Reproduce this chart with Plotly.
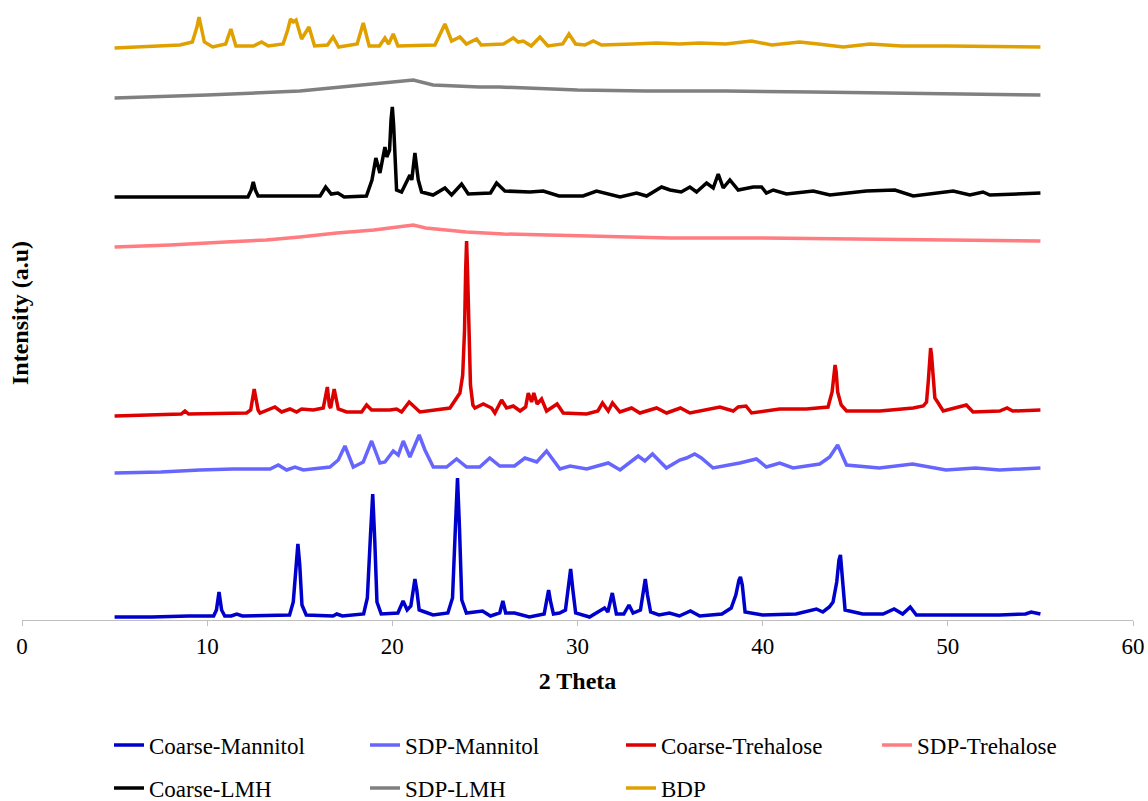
import plotly.graph_objects as go

# ---- data (2 Theta, intensity in a.u.) ----
cm_x = [5.0, 7.0, 9.0, 10.35, 10.5, 10.64, 10.78, 10.95, 11.3, 11.6, 11.9, 14.45, 14.65, 14.8, 14.9, 15.0, 15.12,
        15.35, 16.8, 17.0, 17.3, 18.45, 18.65, 18.82, 18.94, 19.05, 19.17, 19.4, 20.3, 20.58, 20.8, 21.0, 21.12,
        21.22, 21.32, 21.45, 21.76, 22.2, 23.0, 23.25, 23.4, 23.52, 23.63, 23.75, 24.0, 24.87, 25.3, 25.8, 25.97,
        26.12, 26.6, 27.4, 28.2, 28.34, 28.44, 28.55, 28.7, 29.03, 29.35, 29.5, 29.63, 29.75, 29.9, 30.65, 31.46,
        31.64, 31.88, 32.1, 32.5, 32.78, 33.0, 33.4, 33.55, 33.66, 33.78, 33.95, 34.4, 34.97, 35.5, 36.1, 36.6,
        37.8, 38.3, 38.55, 38.72, 38.8, 38.9, 39.05, 40.0, 41.8, 42.9, 43.25, 43.6, 43.8, 44.0, 44.12, 44.2,
        44.3, 44.45, 45.4, 46.5, 47.1, 47.56, 47.97, 48.3, 49.9, 52.8, 54.2, 54.5, 55.0]
cm_y = [3, 3, 4, 4, 10, 28, 10, 4, 4, 6, 4, 5, 18, 55, 76, 55, 15,
        5, 4, 6, 4, 6, 22, 85, 126, 80, 18, 6, 7, 19, 10, 14, 32,
        41, 30, 10, 8, 5, 7, 22, 90, 142, 90, 20, 7, 9, 4, 7, 19,
        7, 7, 3, 6, 20, 30, 18, 6, 7, 10, 32, 51, 30, 7, 3, 12,
        8, 27, 6, 6, 15, 7, 10, 30, 41, 25, 8, 5, 7, 4, 9, 4,
        6, 12, 25, 40, 43, 35, 8, 5, 6, 11, 8, 13, 18, 38, 60, 65,
        45, 10, 6, 6, 11, 6, 13, 5, 5, 5, 6, 8, 6]

sm_x = [5.0, 7.5, 9.6, 11.4, 13.4, 13.84, 14.29, 14.74, 15.19, 16.63, 17.08, 17.44, 17.89, 18.43, 18.88, 19.33,
        19.6, 20.05, 20.32, 20.59, 20.95, 21.45, 21.76, 22.21, 22.93, 23.47, 24.01, 24.72, 25.26, 25.8, 26.6,
        27.16, 27.8, 28.33, 29.05, 29.6, 30.5, 31.66, 32.3, 33.28, 33.64, 34.05, 34.8, 35.52, 35.88, 36.33,
        36.69, 37.32, 38.76, 39.66, 40.2, 40.92, 41.64, 43.08, 43.62, 44.05, 44.53, 46.3, 48.1, 49.9, 51.5,
        52.8, 55.0]
sm_y = [147, 148, 150, 151, 151, 155, 150, 153, 150, 153, 160, 174, 153, 158, 179, 157,
        158, 169, 165, 179, 163, 185, 170, 153, 153, 161, 153, 153, 162, 154, 154,
        162, 158, 169, 151, 154, 151, 157, 150, 164, 159, 166, 152, 160, 162, 166,
        162, 152, 157, 161, 153, 157, 152, 156, 163, 175, 155, 152, 156, 150, 152,
        150, 152]

ct_x = [5.0, 7.0, 8.6, 8.8, 9.0, 12.13, 12.35, 12.54, 12.75, 12.85, 13.66, 14.02, 14.47, 14.83, 15.1, 15.73,
        16.27, 16.49, 16.6, 16.67, 16.86, 17.08, 17.53, 18.34, 18.61, 18.88, 19.87, 20.23, 20.5, 20.91, 21.22,
        21.49, 23.11, 23.65, 23.8, 23.9, 23.96, 24.01, 24.06, 24.12, 24.22, 24.35, 24.46, 24.91, 25.36, 25.54,
        25.9, 26.17, 26.53, 26.9, 27.2, 27.34, 27.52, 27.64, 27.82, 28.06, 28.33, 28.9, 29.23, 30.49, 31.1,
        31.35, 31.66, 31.89, 32.29, 32.92, 33.37, 34.27, 34.81, 35.56, 36.07, 37.69, 38.41, 38.68, 39.1, 39.4,
        40.92, 42.36, 43.53, 43.75, 43.85, 43.91, 43.97, 44.05, 44.24, 44.53, 46.33, 48.13, 48.67, 48.85,
        48.95, 49.02, 49.07, 49.12, 49.2, 49.3, 49.48, 49.75, 51.0, 51.36, 52.8, 53.2, 53.5, 55.0]
ct_y = [204, 205, 206, 209, 206, 207, 210, 231, 210, 207, 213, 208, 211, 208, 211, 210,
        212, 233, 214, 212, 231, 211, 208, 208, 215, 210, 210, 211, 208, 218, 212,
        208, 212, 227, 245, 290, 350, 379, 350, 290, 235, 215, 212, 216, 212, 207,
        220, 212, 214, 209, 213, 227, 218, 227, 216, 221, 209, 216, 207, 206, 209,
        217, 209, 217, 208, 212, 207, 212, 207, 212, 207, 213, 209, 213, 214, 207,
        211, 211, 213, 228, 248, 255, 248, 228, 215, 209, 209, 212, 214, 218,
        240, 265, 272, 265, 240, 222, 217, 209, 215, 208, 209, 212, 209, 210]

st_x = [5.0, 8.0, 11.0, 13.2, 15.0, 17.0, 19.0, 20.5, 21.13, 21.8, 23.0, 24.0, 26.0, 28.0, 30.0, 32.3, 35.0,
        40.0, 45.0, 50.0, 55.0]
st_y = [373, 375, 378, 380, 383, 387, 390, 393, 395, 392, 390, 388, 386, 385, 384, 383, 382,
        382, 381, 380, 379]

cl_x = [5.0, 8.0, 12.2, 12.38, 12.49, 12.6, 12.75, 16.1, 16.4, 16.7, 17.06, 17.4, 18.6, 18.9, 19.11, 19.33, 19.6,
        19.7, 19.85, 19.93, 20.0, 20.07, 20.15, 20.23, 20.5, 20.95, 21.05, 21.22, 21.4, 21.58, 22.2, 22.84, 23.2,
        23.74, 24.1, 25.3, 25.63, 26.08, 27.43, 28.15, 29.0, 30.3, 31.03, 32.3, 33.19, 33.73, 34.54, 35.0, 35.6,
        36.07, 36.43, 36.97, 37.33, 37.6, 37.87, 38.23, 38.68, 39.49, 39.94, 40.2, 40.57, 41.29, 42.73, 43.63,
        45.6, 47.14, 48.13, 50.29, 51.19, 51.9, 52.27, 55.0]
cl_y = [423, 423, 423, 430, 438, 430, 424, 424, 433, 426, 427, 423, 424, 440, 462, 447, 473,
        463, 470, 500, 513, 495, 450, 430, 428, 445, 440, 467, 440, 428, 425, 432, 425,
        436, 426, 427, 437, 429, 428, 429, 424, 424, 429, 423, 427, 424, 433, 430, 428,
        433, 428, 437, 432, 446, 432, 440, 430, 433, 433, 427, 430, 426, 429, 425,
        429, 430, 424, 429, 425, 428, 425, 427]

sl_x = [5.0, 10.0, 15.0, 18.6, 21.13, 22.2, 24.7, 25.8, 30.0, 33.7, 38.0, 42.7, 48.0, 52.8, 55.0]
sl_y = [522, 525, 529, 535, 540, 535, 533, 533, 530, 529, 529, 528, 527, 526, 525]

bdp_x = [5.0, 8.53, 9.2, 9.45, 9.56, 9.67, 9.85, 10.3, 11.0, 11.28, 11.55, 12.5, 12.94, 13.3, 14.1, 14.35, 14.5,
         14.65, 14.8, 15.1, 15.5, 15.8, 16.5, 16.8, 17.1, 18.1, 18.43, 18.75, 19.3, 19.6, 19.8, 20.05, 20.3,
         22.3, 22.84, 23.2, 23.65, 24.0, 24.55, 24.8, 26.0, 26.53, 26.8, 27.07, 27.5, 27.97, 28.4, 29.2, 29.54,
         29.9, 30.4, 30.85, 31.3, 33.0, 34.27, 35.5, 36.6, 38.0, 39.4, 40.5, 42.0, 43.0, 44.35, 45.8, 47.5,
         50.0, 52.8, 55.0]
bdp_y = [572, 575, 578, 593, 603, 593, 578, 573, 576, 591, 574, 574, 578, 574, 576, 590, 601,
         598, 600, 581, 593, 574, 575, 583, 573, 576, 597, 574, 574, 582, 576, 586, 574,
         575, 596, 579, 583, 576, 581, 575, 576, 582, 578, 579, 574, 583, 574, 576, 586,
         576, 575, 579, 575, 576, 577, 576, 577, 576, 579, 575, 578, 576, 573, 576, 574,
         574, 573, 573]

series_names = ["Coarse-Mannitol", "SDP-Mannitol", "Coarse-Trehalose", "SDP-Trehalose",
                "Coarse-LMH", "SDP-LMH", "BDP"]
series_x = [cm_x, sm_x, ct_x, st_x, cl_x, sl_x, bdp_x]
series_y = [cm_y, sm_y, ct_y, st_y, cl_y, sl_y, bdp_y]
series_colors = ["#0000CC", "#6666FF", "#DD0000", "#FF7C80", "#000000", "#808080", "#E0A000"]
x_ticks = [0, 10, 20, 30, 40, 50, 60]

FONT = "Liberation Serif"
W, H = 1148, 801
ML, MR, MT, MB = 22, 15, 8, 181
PW, PH = W - ML - MR, H - MT - MB

fig = go.Figure()
for i, (name, xs, ys, col) in enumerate(zip(series_names, series_x, series_y, series_colors)):
    fig.add_trace(go.Scatter(
        x=xs, y=ys, mode="lines", name=name,
        line=dict(color=col, width=3.5),
        legend="legend" if i < 4 else "legend2",
    ))

def py(p):  # pixel row -> paper y
    return (H - MB - p) / PH

def px(p):  # pixel column -> paper x
    return (p - ML) / PW

legend_common = dict(
    orientation="h", x=px(109), xanchor="left", yanchor="middle",
    entrywidth=211, entrywidthmode="pixels",
    font=dict(family=FONT, size=23, color="black"),
    bgcolor="rgba(0,0,0,0)", borderwidth=0, traceorder="normal",
)

fig.update_layout(
    width=W, height=H,
    margin=dict(l=ML, r=MR, t=MT, b=MB, autoexpand=False),
    paper_bgcolor="white", plot_bgcolor="white",
    font=dict(family=FONT, color="black"),
    showlegend=True,
    legend=dict(y=py(745), **legend_common),
    legend2=dict(y=py(788), **legend_common),
    xaxis=dict(
        range=[0, 60], tickmode="array", tickvals=x_ticks, ticktext=[str(v) for v in x_ticks],
        ticks="outside", ticklen=5, tickcolor="#BFBFBF", tickwidth=1,
        showline=True, linecolor="#BFBFBF", linewidth=1,
        showgrid=False, zeroline=False,
        tickfont=dict(family=FONT, size=23, color="black"),
        title=dict(text="<b>2 Theta</b>", font=dict(family=FONT, size=24, color="black"), standoff=14),
        fixedrange=True,
    ),
    yaxis=dict(
        range=[0, PH], showticklabels=False, showline=False, ticks="",
        showgrid=False, zeroline=False, fixedrange=True,
    ),
    annotations=[dict(
        text="<b>Intensity (a.u)</b>", xref="paper", yref="paper",
        x=px(20), y=py(313), xanchor="center", yanchor="middle", textangle=-90,
        showarrow=False, font=dict(family=FONT, size=24, color="black"),
    )],
)

fig.write_html("out.html")
